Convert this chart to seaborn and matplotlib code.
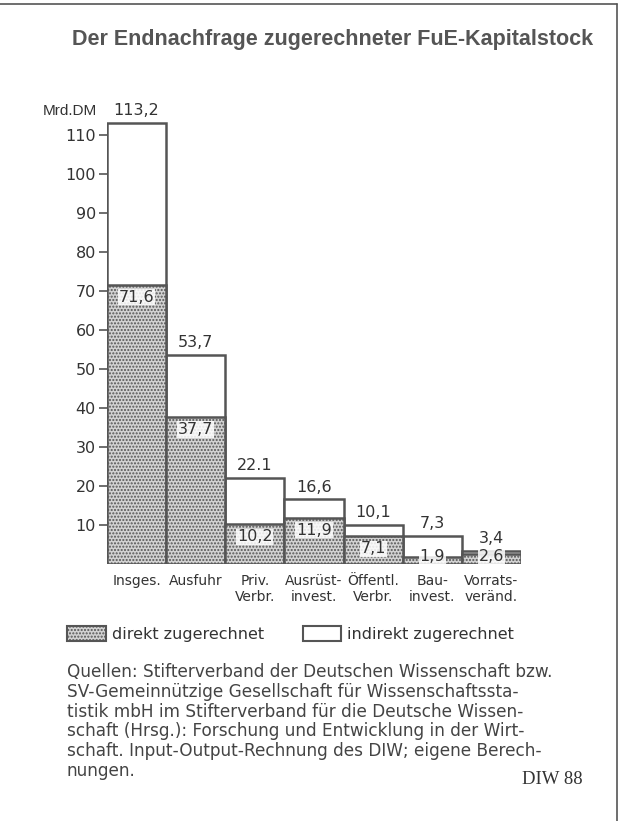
import numpy as np
import pandas as pd
import matplotlib
matplotlib.use("Agg")
import matplotlib.pyplot as plt
from matplotlib.patches import Patch
from matplotlib.lines import Line2D
import seaborn as sns

# data (Mrd. DM)
categories = ["Insges.", "Ausfuhr", "Priv.\nVerbr.", "Ausrüst-\ninvest.",
              "Öffentl.\nVerbr.", "Bau-\ninvest.", "Vorrats-\nveränd."]
total = [113.2, 53.7, 22.1, 16.6, 10.1, 7.3, 3.4]
direct = [71.6, 37.7, 10.2, 11.9, 7.1, 1.9, 2.6]
total_labels = ["113,2", "53,7", "22.1", "16,6", "10,1", "7,3", "3,4"]
yticks = [10, 20, 30, 40, 50, 60, 70, 80, 90, 100, 110]

title = "Der Endnachfrage zugerechneter FuE-Kapitalstock"
source_lines = ["Quellen: Stifterverband der Deutschen Wissenschaft bzw.",
                "SV-Gemeinnützige Gesellschaft für Wissenschaftssta-",
                "tistik mbH im Stifterverband für die Deutsche Wissen-",
                "schaft (Hrsg.): Forschung und Entwicklung in der Wirt-",
                "schaft. Input-Output-Rechnung des DIW; eigene Berech-",
                "nungen."]

sns.set_style("white")
plt.rcParams['font.family'] = ['Liberation Sans', 'DejaVu Sans']
plt.rcParams['hatch.linewidth'] = 1.0

EDGE = '#555555'
TXT = '#333333'
FILL = '#d2d2d2'

df = pd.DataFrame({'cat': categories, 'total': total, 'direct': direct})

fig = plt.figure(figsize=(6.26, 8.21), dpi=100)
W, H = 626, 821
ax = fig.add_axes([107 / W, (H - 564) / H, (521 - 107) / W, 115 * 3.9 / H])

sns.barplot(data=df, x='cat', y='total', color='white', edgecolor=EDGE,
            linewidth=1.8, width=1.0, errorbar=None, ax=ax, zorder=2)
sns.barplot(data=df, x='cat', y='direct', color=FILL, edgecolor=EDGE,
            linewidth=1.8, width=1.0, errorbar=None, ax=ax, hatch='.....',
            zorder=3)

ax.set_xlim(-0.5, len(categories) - 0.5)
ax.set_ylim(0, 115)
ax.set_yticks(yticks)
ax.set_yticklabels([str(t) for t in yticks], fontsize=11.5, color=TXT,
                   family='DejaVu Sans')
ax.tick_params(axis='y', length=6, width=1.2, color=EDGE, pad=2, left=True)
ax.tick_params(axis='x', length=0, pad=7)
ax.set_xticks(range(len(categories)))
ax.set_xticklabels(categories, fontsize=10, color=TXT, linespacing=1.2,
                   family='DejaVu Sans', va='top')
ax.set_xlabel('')
ax.set_ylabel('')
for s in ax.spines.values():
    s.set_visible(False)

for i, (t, d, lab) in enumerate(zip(total, direct, total_labels)):
    ax.text(i, t + 1.2, lab, ha='center', va='bottom', fontsize=11.5,
            color=TXT, family='DejaVu Sans', zorder=5)
    ax.text(i, max(d - 3.2, 1.9), f"{d:.1f}".replace('.', ','), ha='center',
            va='center', fontsize=11.5, color=TXT, family='DejaVu Sans', zorder=5,
            bbox=dict(facecolor='white', edgecolor='none', pad=0.5, alpha=0.85))

ax.text(-0.67, 114.4, "Mrd.DM", ha='right', va='bottom', fontsize=11,
        color=TXT, transform=ax.transData)

fig.text(333 / W, 1 - 40 / H, title, ha='center', va='center',
         fontsize=15.5, fontweight='bold', color='#555555')

handles = [Patch(facecolor=FILL, edgecolor=EDGE, hatch='.....', linewidth=1.5),
           Patch(facecolor='white', edgecolor=EDGE, linewidth=1.5)]
fig.legend(handles, ["direkt zugerechnet", "indirekt zugerechnet"],
           loc='center left', bbox_to_anchor=(53 / W, 1 - 634 / H), ncol=2,
           frameon=False, handlelength=2.4, handleheight=1.05,
           handletextpad=0.4, columnspacing=2.4, labelcolor=TXT,
           prop={'family': 'DejaVu Sans', 'size': 11.5})

for k, line in enumerate(source_lines):
    fig.text(67 / W, 1 - (672 + 19.8 * k) / H, line, ha='left', va='center',
             fontsize=12.2, color='#444444', family='DejaVu Sans')
fig.text(583 / W, 1 - 779 / H, "DIW 88", ha='right', va='center',
         fontsize=13.5, family='Liberation Serif', color='#333333')

# outer frame (top and right edges visible in the scan)
fig.add_artist(Line2D([0, 617 / W], [1 - 4 / H, 1 - 4 / H], transform=fig.transFigure,
                      color='#555555', lw=1.2))
fig.add_artist(Line2D([617 / W, 617 / W], [1 - 4 / H, 0], transform=fig.transFigure,
                      color='#555555', lw=1.2))

fig.savefig('out.png', dpi=100)
